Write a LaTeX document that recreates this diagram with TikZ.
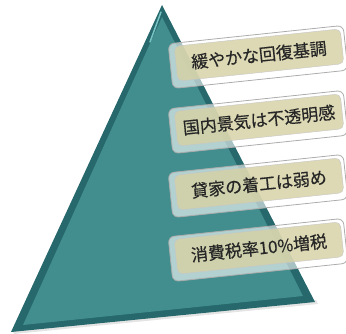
\documentclass[tikz,border=0pt]{standalone}
\usepackage{fontspec}
\newfontfamily\jp[FakeBold=0.5]{Noto Sans CJK JP}
\definecolor{tealface}{RGB}{66,141,141}
\definecolor{tealedge}{RGB}{38,104,108}
\definecolor{teallight}{RGB}{120,195,195}
\definecolor{khaki}{RGB}{214,209,165}
\definecolor{txt}{RGB}{38,38,38}
\begin{document}
\begin{tikzpicture}[x=1pt,y=-1pt,
 frame/.style={draw=gray!65, fill=white, fill opacity=0.6, rounded corners=6pt,
   minimum width=176pt, minimum height=45pt, rotate=6, line width=0.8pt, inner sep=0pt},
 panel/.style={draw=gray!45, fill=khaki, fill opacity=0.82, text opacity=1, rounded corners=5pt,
   minimum width=167pt, minimum height=35pt, rotate=6, text=txt,
   font=\jp\fontsize{17}{17}\selectfont, inner sep=0pt}]
\useasboundingbox (0,0) rectangle (346,334);
% pyramid
\coordinate (A) at (162,5);
\coordinate (BL) at (11,332);
\coordinate (BR) at (315,302);
\coordinate (A2) at (162,17);
\coordinate (BL2) at (23,325);
\coordinate (BR2) at (303,296);
\fill[gray!35, opacity=0.6] (14,334) -- (318,304) -- (316,300) -- (12,330) -- cycle;
\fill[tealedge] (A) -- (BL) -- (BR) -- cycle;
\fill[tealface] (A2) -- (BL2) -- (BR2) -- cycle;
\draw[teallight, line width=1.5pt, line cap=round] (161,12) -- (150,42);
% boxes
\node[frame] (f1) at (258,57) {};
\node[panel] (p1) at (259,55) {緩やかな回復基調};
\node[frame] (f2) at (258,122) {};
\node[panel] (p2) at (259,120) {国内景気は不透明感};
\node[frame] (f3) at (258,186) {};
\node[panel] (p3) at (259,184) {貸家の着工は弱め};
\node[frame] (f4) at (258,250) {};
\node[panel] (p4) at (259,248) {消費税率10\%増税};
\end{tikzpicture}
\end{document}
